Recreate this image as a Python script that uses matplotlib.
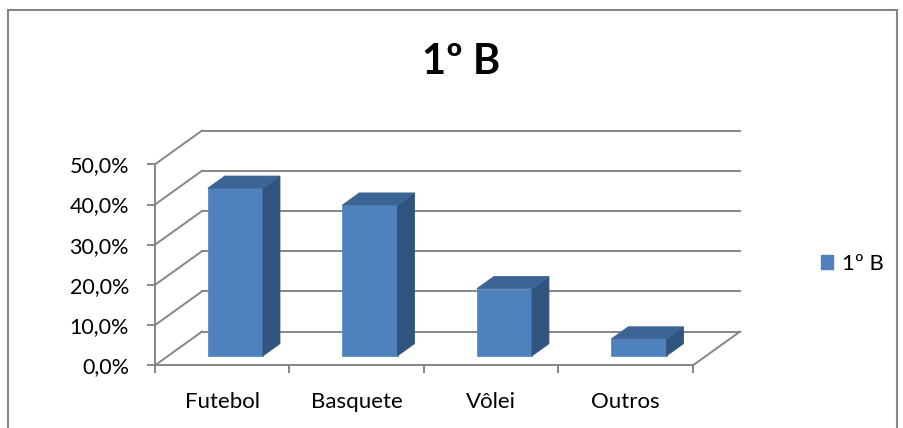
import matplotlib
matplotlib.use("Agg")
import matplotlib.pyplot as plt
from matplotlib.patches import Polygon, Rectangle

# data
categorias = ["Futebol", "Basquete", "Vôlei", "Outros"]
valores = [41.7, 37.5, 16.7, 4.2]
serie = "1º B"
ticks_y = [0, 10, 20, 30, 40, 50]

plt.rcParams['font.family'] = ['Lato', 'DejaVu Sans']

cinza = "#868686"
frente = "#4F81BD"
topo = "#3C6495"
lado = "#31547E"

# oblique depth of the 3d box (x in category units, y in percent)
dx, dy = 0.35, 8.4
f0, fd = 0.28, 0.36
larg = 0.41

fig = plt.figure(figsize=(9.04, 4.28), dpi=100)
ax = fig.add_axes([155/904, (428-365.3)/428, 538/904, 201/428])
ax.set_xlim(0, 4)
ax.set_ylim(0, 50)
ax.patch.set_visible(False)

# walls / gridlines
for v in ticks_y:
    ax.plot([0, dx], [v, v+dy], color=cinza, lw=1.4, clip_on=False, zorder=1)
    ax.plot([dx, 4+dx], [v+dy, v+dy], color=cinza, lw=1.4, clip_on=False, zorder=1)
ax.plot([4, 4+dx], [0, dy], color=cinza, lw=1.4, clip_on=False, zorder=1)

# bars
for i, v in enumerate(valores):
    x0 = i + 0.5 - larg/2 + f0*dx
    y0 = f0*dy
    ox, oy = fd*dx, fd*dy
    face = Polygon([(x0, y0), (x0+larg, y0), (x0+larg, y0+v), (x0, y0+v)],
                   closed=True, fc=frente, ec="#5B8CC6", lw=0.6, clip_on=False, zorder=3)
    top = Polygon([(x0, y0+v), (x0+larg, y0+v), (x0+larg+ox, y0+v+oy), (x0+ox, y0+v+oy)],
                  closed=True, fc=topo, ec=topo, lw=0.6, clip_on=False, zorder=3)
    side = Polygon([(x0+larg, y0), (x0+larg+ox, y0+oy), (x0+larg+ox, y0+v+oy), (x0+larg, y0+v)],
                   closed=True, fc=lado, ec=lado, lw=0.6, clip_on=False, zorder=3)
    ax.add_patch(face)
    ax.add_patch(side)
    ax.add_patch(top)

# axes
for s in ["top", "right"]:
    ax.spines[s].set_visible(False)
for s in ["left", "bottom"]:
    ax.spines[s].set_color(cinza)
    ax.spines[s].set_linewidth(1.4)

ax.set_yticks(ticks_y)
ax.set_yticklabels([f"{t:.1f}%".replace(".", ",") for t in ticks_y])
ax.tick_params(axis="y", direction="out", length=5.8, width=1.4, color=cinza,
               pad=13, labelsize=15.5)
ax.set_xticks([0, 1, 2, 3, 4])
ax.set_xticklabels([])
ax.set_xticks([0.5, 1.5, 2.5, 3.5], minor=True)
ax.set_xticklabels(categorias, minor=True)
ax.tick_params(axis="x", which="major", direction="out", length=5.8, width=1.4, color=cinza)
ax.tick_params(axis="x", which="minor", length=0, pad=19, labelsize=16)

# title
fig.text(461/904, 1-62/428, serie, ha="center", va="center", fontsize=30, fontweight="bold")

# legend
h = Rectangle((0, 0), 1, 1, fc=frente, ec=frente)
fig.legend([h], [serie], loc="center left", bbox_to_anchor=(821/904, 1-264/428),
           frameon=False, fontsize=16, handlelength=0.56, handleheight=0.56,
           handletextpad=0.4, borderaxespad=0, borderpad=0)

# chart border
fig.patches.append(Rectangle((8/904, -0.05), 889/904, 1.05-10/428, transform=fig.transFigure,
                             fill=False, ec=cinza, lw=1.5))

fig.savefig("out.png", dpi=100)
